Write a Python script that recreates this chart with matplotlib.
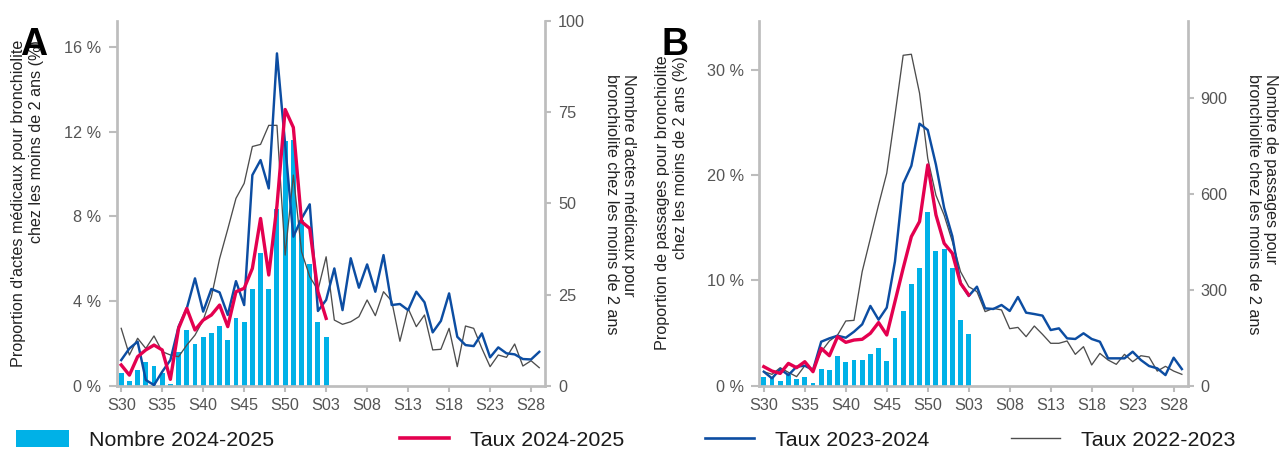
import matplotlib
matplotlib.use('Agg')
import matplotlib.pyplot as plt
from matplotlib.patches import Patch
from matplotlib.lines import Line2D
import numpy as np

plt.rcParams['font.family'] = ['Liberation Sans', 'DejaVu Sans']

# ---------------- data ----------------
weeks = list(range(30, 53)) + list(range(1, 30))
week_labels = [f"S{w:02d}" for w in weeks]
tick_idx = list(range(0, 52, 5))

# Panel A : actes médicaux (SOS Médecins)
a_count_2425 = [3.4, 1.4, 4.4, 6.4, 5.4, 3.5, 0.5, 9.3, 15.4, 11.4, 13.4, 14.4, 16.5,
                12.4, 18.5, 17.5, 26.5, 36.5, 26.5, 48.4, 67.0, 67.5, 45.5, 33.5, 17.5, 13.4]
a_rate_2425 = [0.98, 0.50, 1.37, 1.69, 1.92, 1.69, 0.30, 2.71, 3.65, 2.63, 3.10, 3.34, 3.81,
               2.79, 4.44, 4.60, 5.54, 7.90, 5.23, 8.50, 13.05, 12.20, 7.75, 7.43, 4.44, 3.18]
a_rate_2324 = [1.21, 1.76, 2.08, 0.27, 0.03, 0.66, 1.21, 2.79, 3.65, 5.07,
               3.50, 4.57, 4.41, 3.34, 4.94, 3.81, 9.95, 10.66, 9.32, 15.70,
               11.40, 7.04, 7.90, 8.57, 3.53, 4.05, 5.54, 3.57, 6.02, 4.63,
               5.73, 4.44, 6.17, 3.81, 3.86, 3.57, 4.44, 3.94, 2.52, 3.06,
               4.36, 2.31, 1.92, 1.87, 2.47, 1.34, 1.81, 1.53, 1.48, 1.26,
               1.24, 1.60]
a_rate_2223 = [2.71, 1.45, 2.24, 1.76, 2.35, 1.61, 1.45, 1.37, 1.92, 2.39,
               3.10, 4.20, 6.00, 7.40, 8.85, 9.56, 11.30, 11.40, 12.30, 12.30,
               6.17, 9.95, 6.33, 5.15, 4.52, 6.09, 3.10, 2.90, 3.02, 3.26,
               4.05, 3.31, 4.44, 4.00, 2.10, 3.65, 2.79, 3.34, 1.69, 1.72,
               2.71, 0.90, 2.82, 2.71, 1.76, 0.90, 1.45, 1.34, 1.97, 0.93,
               1.18, 0.85]

# Panel B : passages aux urgences (OSCOUR)
b_count_2425 = [26, 23, 15, 33, 21, 28, 10, 52, 48, 92, 75, 81, 79,
                100, 119, 77, 150, 234, 317, 367, 545, 422, 428, 367, 205, 161]
b_rate_2425 = [1.81, 1.39, 1.17, 2.12, 1.71, 2.28, 1.33, 3.55, 2.85, 4.66, 4.12, 4.34, 4.41,
               4.98, 6.00, 4.82, 7.99, 11.16, 14.17, 15.60, 20.98, 16.23, 13.53, 12.58, 9.73, 8.62]
b_rate_2324 = [1.33, 0.70, 1.58, 1.01, 1.81, 1.90, 1.49, 4.18, 4.50, 4.75,
               4.56, 5.13, 5.83, 7.58, 6.27, 7.42, 11.80, 19.20, 20.90, 24.90,
               24.30, 21.00, 16.90, 14.20, 9.73, 8.53, 9.41, 7.35, 7.29, 7.67,
               7.10, 8.43, 6.94, 6.81, 6.66, 5.29, 5.45, 4.50, 4.44, 4.98,
               4.44, 4.18, 2.60, 2.60, 2.60, 3.23, 2.44, 1.87, 1.65, 1.01,
               2.66, 1.58]
b_rate_2223 = [1.33, 1.08, 1.71, 1.27, 0.86, 1.90, 1.58, 3.23, 4.25, 4.82,
               6.15, 6.21, 10.84, 14.00, 17.18, 20.20, 25.70, 31.40, 31.50, 27.80,
               21.60, 18.10, 16.20, 13.70, 10.84, 9.41, 8.94, 7.04, 7.35, 7.20,
               5.42, 5.54, 4.66, 5.67, 4.88, 4.03, 4.03, 4.25, 2.98, 3.71,
               1.97, 3.07, 2.44, 2.03, 2.98, 2.28, 2.85, 2.73, 1.39, 1.84,
               1.39, 1.08]

a_pct_ticks = [0, 4, 8, 12, 16]
a_cnt_ticks = [0, 25, 50, 75, 100]
b_pct_ticks = [0, 10, 20, 30]
b_cnt_ticks = [0, 300, 600, 900]

legend_labels = ["Nombre 2024-2025", "Taux 2024-2025", "Taux 2023-2024", "Taux 2022-2023"]

# ---------------- style ----------------
W, H = 1279, 450
fig = plt.figure(figsize=(W / 100, H / 100), dpi=100)

C_BAR = '#00B1E7'
C_RED = '#E4004F'
C_BLUE = '#0C4DA2'
C_GRAY = '#4D4D4D'
SPINE = '#BDBDBD'
TICKLAB = '#555555'
LAB = '#222222'
TSIZE = 11.7


def panel(left_px, counts, r25, r24, r23, pct_max, pct_ticks, cnt_max, cnt_ticks):
    rect = [left_px / W, (H - 385.7) / H, 428.3 / W, (385.7 - 21) / H]
    ax = fig.add_axes(rect)
    x = np.arange(len(weeks))
    ax.bar(x[:len(counts)], counts, width=0.6, color=C_BAR, zorder=1, linewidth=0)
    ax.set_xlim(-0.55, 51.7)
    ax.set_ylim(0, cnt_max)

    ax2 = ax.twinx()
    ax2.plot(x[:len(r23)], r23, color=C_GRAY, lw=0.95, zorder=2)
    ax2.plot(x[:len(r24)], r24, color=C_BLUE, lw=1.75, zorder=3)
    ax2.plot(x[:len(r25)], r25, color=C_RED, lw=2.4, zorder=4)
    ax2.set_ylim(0, pct_max)
    ax2.set_xlim(-0.55, 51.7)

    ax.yaxis.tick_right()
    ax2.yaxis.tick_left()

    ax.set_yticks(cnt_ticks)
    ax.set_yticklabels([str(v) for v in cnt_ticks])
    ax2.set_yticks(pct_ticks)
    ax2.set_yticklabels([f"{v} %" for v in pct_ticks])
    ax.set_xticks(tick_idx)
    ax.set_xticklabels([week_labels[i] for i in tick_idx])

    for a in (ax, ax2):
        for s in a.spines.values():
            s.set_color(SPINE)
            s.set_linewidth(1.95)
        a.spines['top'].set_visible(False)
    ax.spines['left'].set_visible(False)
    ax2.spines['right'].set_visible(False)
    ax2.spines['bottom'].set_visible(False)

    ax.tick_params(axis='y', right=True, left=False, labelright=True, labelleft=False,
                   length=4.3, width=1.5, color=SPINE, labelcolor=TICKLAB,
                   labelsize=TSIZE, pad=5)
    ax.tick_params(axis='x', length=4.3, width=1.5, color=SPINE, labelcolor=TICKLAB,
                   labelsize=TSIZE, pad=4.3)
    ax2.tick_params(axis='y', left=True, right=False, labelleft=True, labelright=False,
                    length=5.5, width=1.5, color=SPINE, labelcolor=TICKLAB,
                    labelsize=TSIZE, pad=5.5)
    return ax, ax2


panel(116.7, a_count_2425, a_rate_2425, a_rate_2324, a_rate_2223,
      17.23, a_pct_ticks, 100, a_cnt_ticks)
panel(759.3, b_count_2425, b_rate_2425, b_rate_2324, b_rate_2223,
      34.66, b_pct_ticks, 1142, b_cnt_ticks)

# axis titles
def vlabel(xpx, ypx, s, rot, malign):
    fig.text(xpx / W, 1 - ypx / H, s, rotation=rot, ha='center', va='center',
             multialignment=malign, fontsize=11.6, color=LAB, linespacing=1.2)

vlabel(27.5, 203.5, "Proportion d'actes médicaux pour bronchiolite\nchez les moins de 2 ans (%)", 90, 'right')
vlabel(620, 204, "Nombre d'actes médicaux pour\nbronchiolite chez les moins de 2 ans", 270, 'left')
vlabel(671.5, 203, "Proportion de passages pour bronchiolite\nchez les moins de 2 ans (%)", 90, 'right')
vlabel(1262, 204, "Nombre de passages pour\nbronchiolite chez les moins de 2 ans", 270, 'left')

# panel letters
fig.text(20 / W, 1 - 55 / H, 'A', fontsize=27, fontweight='bold', va='baseline', ha='left')
fig.text(662 / W, 1 - 55 / H, 'B', fontsize=27, fontweight='bold', va='baseline', ha='left')

# legend
handles = [Patch(facecolor=C_BAR, edgecolor='none'),
           Line2D([], [], color=C_RED, lw=2.6),
           Line2D([], [], color=C_BLUE, lw=1.9),
           Line2D([], [], color=C_GRAY, lw=1.0)]
leg_x = [16, 400, 705, 1011]
leg_hl = [2.48, 2.3, 2.3, 2.3]
for h, lab, xp, hl in zip(handles, legend_labels, leg_x, leg_hl):
    lg = fig.legend([h], [lab], loc='center left', bbox_to_anchor=(xp / W, 1 - 440 / H),
                    frameon=False, fontsize=15.4, handlelength=hl, handleheight=0.84,
                    handletextpad=0.95, borderpad=0, borderaxespad=0)
    for t in lg.get_texts():
        t.set_color('#1a1a1a')

fig.savefig('out.png', dpi=100)
